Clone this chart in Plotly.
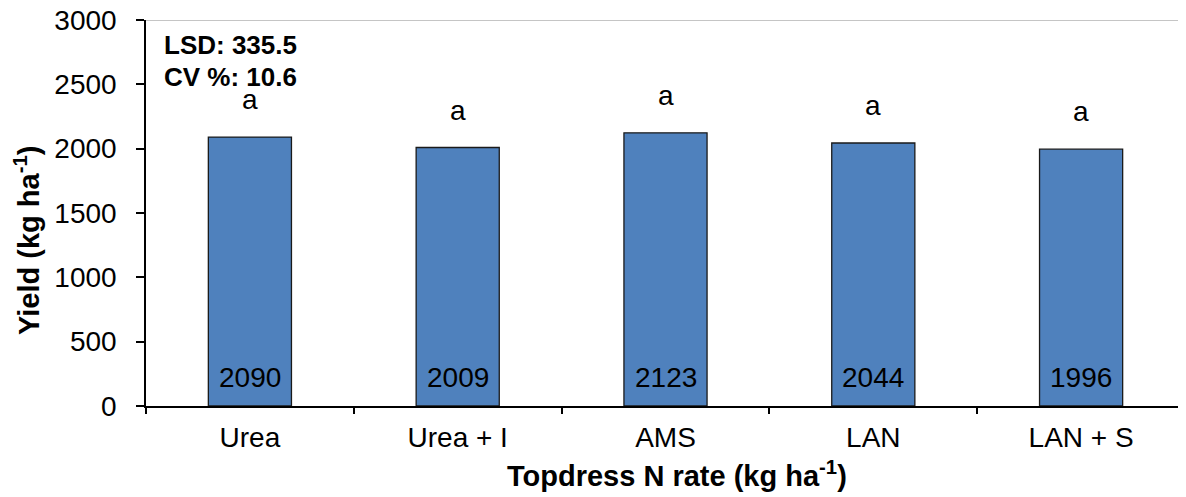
import plotly.graph_objects as go

categories = ["Urea", "Urea + I", "AMS", "LAN", "LAN + S"]
yields = [2090, 2009, 2123, 2044, 1996]
letters = ["a", "a", "a", "a", "a"]
y_ticks = [0, 500, 1000, 1500, 2000, 2500, 3000]
stats_lines = ["LSD: 335.5", "CV %: 10.6"]

FONT = "Liberation Sans, Arial, sans-serif"
OFF = 8  # page body margin
W, H = 1186 - OFF, 497 - OFF
ML, MR, MT = 146 - OFF, 1, 20 - OFF
MB = H - (406 - OFF)
PW, PH = W - ML - MR, H - MT - MB


def px(xp):
    return (xp - OFF - ML) / PW


def py(yp):
    return 1 - (yp - OFF - MT) / PH


fig = go.Figure()
fig.add_trace(go.Bar(
    x=categories, y=yields, width=0.4,
    marker=dict(color="#4F81BD", line=dict(color="#1a1a1a", width=1.3)),
    hoverinfo="skip",
))

ann = []
for c, v, l in zip(categories, yields, letters):
    ann.append(dict(x=c, y=0, xref="x", yref="y", text=str(v), showarrow=False,
                    yanchor="middle", yshift=29, font=dict(family=FONT, size=28, color="black")))
    ann.append(dict(x=c, y=v, xref="x", yref="y", text=l, showarrow=False,
                    yanchor="bottom", yshift=20, font=dict(family=FONT, size=28, color="black")))

ann.append(dict(xref="paper", yref="paper", x=px(162), y=py(45),
                xanchor="left", yanchor="middle", showarrow=False, align="left",
                text="<b>" + stats_lines[0] + "</b>", font=dict(family=FONT, size=26, color="black")))
ann.append(dict(xref="paper", yref="paper", x=px(162), y=py(77),
                xanchor="left", yanchor="middle", showarrow=False, align="left",
                text="<b>" + stats_lines[1] + "</b>", font=dict(family=FONT, size=26, color="black")))
# y axis title
ann.append(dict(xref="paper", yref="paper", x=px(27), y=py(241),
                xanchor="center", yanchor="middle", showarrow=False, textangle=-90,
                text="<b>Yield (kg ha<sup>-1</sup>)</b>", font=dict(family=FONT, size=29, color="black")))
# x axis title
ann.append(dict(xref="paper", yref="paper", x=px(677), y=py(474),
                xanchor="center", yanchor="middle", showarrow=False,
                text="<b>Topdress N rate (kg ha<sup>-1</sup>)</b>", font=dict(family=FONT, size=29, color="black")))

fig.update_layout(
    width=W, height=H,
    margin=dict(l=ML, r=MR, t=MT, b=MB, pad=0),
    plot_bgcolor="white", paper_bgcolor="white",
    showlegend=False,
    font=dict(family=FONT, size=28, color="black"),
    annotations=ann,
    shapes=[dict(type="line", xref="paper", yref="y", x0=0, x1=1, y0=3000, y1=3000,
                 line=dict(color="#8c8c8c", width=1))],
)
fig.update_xaxes(
    range=[-0.5, 4.5], showline=True, linecolor="black", linewidth=1.5, automargin=False,
    ticks="outside", tickson="boundaries", ticklen=6, tickcolor="black", tickwidth=1.5,
    showgrid=False, tickfont=dict(family=FONT, size=28), ticklabelstandoff=6,
)
fig.update_yaxes(
    range=[0, 3000], tickvals=y_ticks, showline=True, linecolor="black", linewidth=1.5, automargin=False,
    ticks="outside", ticklen=8, tickcolor="black", tickwidth=1.5,
    showgrid=False, zeroline=False, tickfont=dict(family=FONT, size=28), ticklabelstandoff=14,
    ticklabeloverflow="allow",
)

fig.write_html("out.html")
